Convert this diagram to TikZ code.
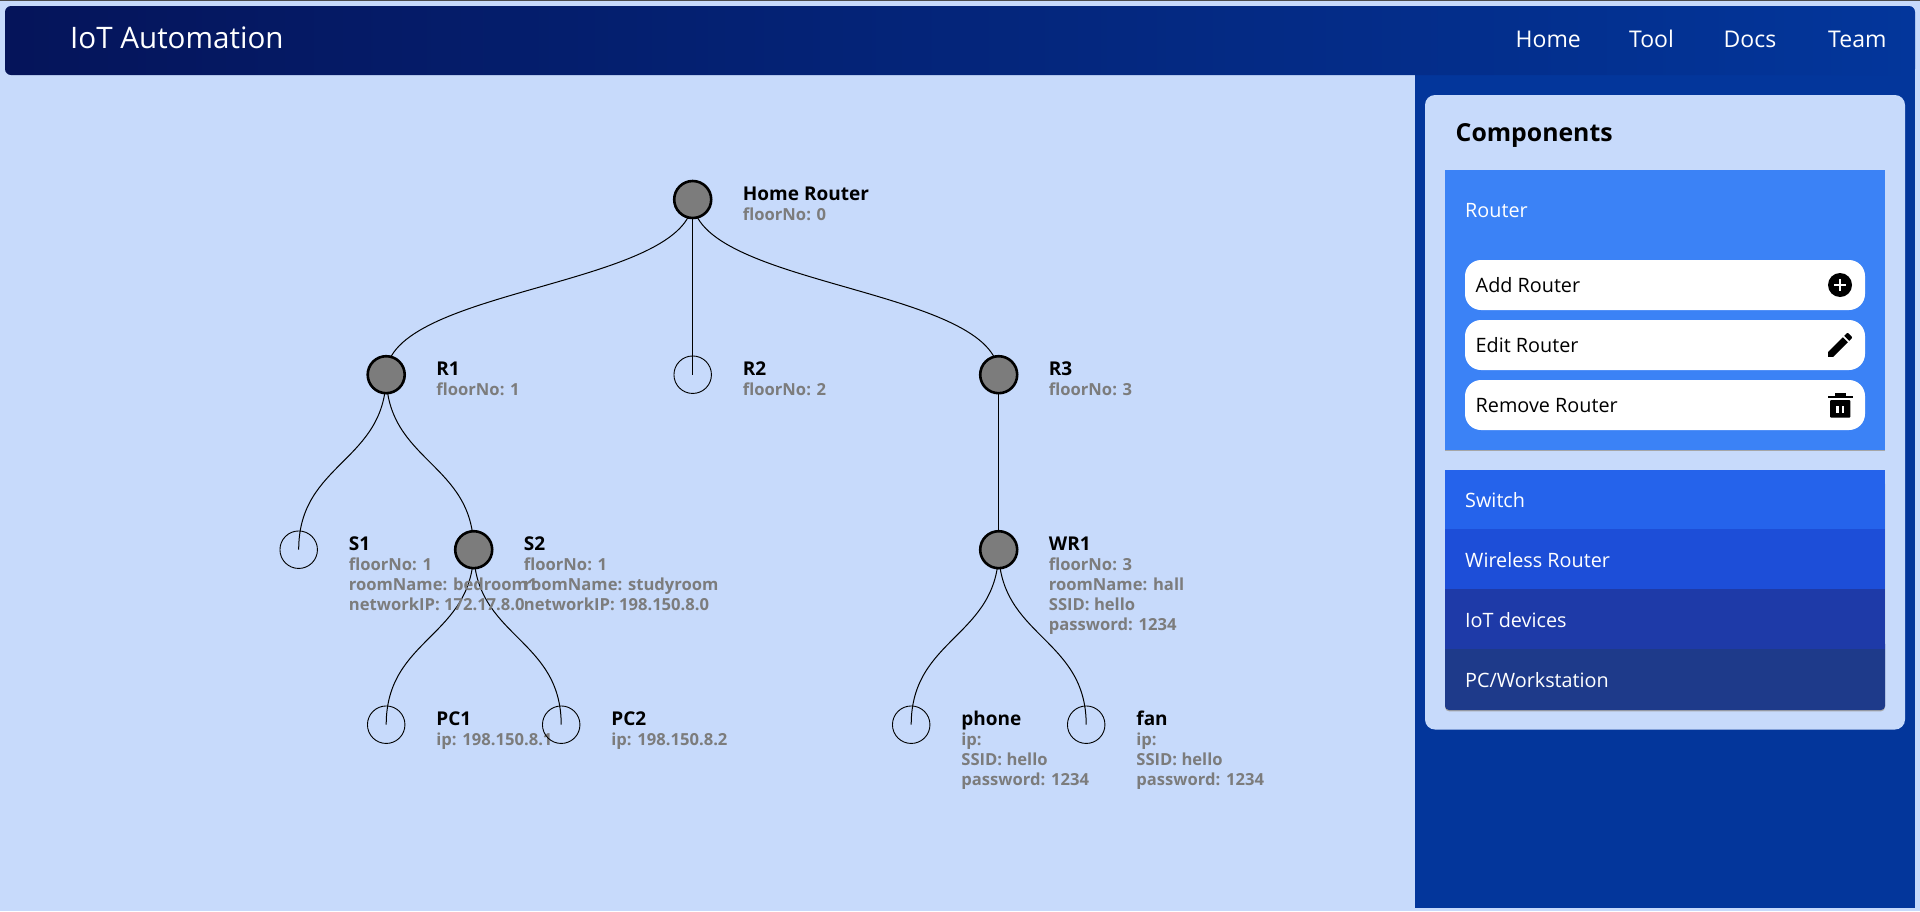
\documentclass[tikz,border=0pt]{standalone}
\usepackage{fontspec}
\setmainfont{Open Sans}
\usetikzlibrary{calc,backgrounds}
\definecolor{pagebg}{HTML}{C7DAFB}
\definecolor{sidebar}{HTML}{03369B}
\definecolor{headL}{HTML}{05145A}
\definecolor{b500}{HTML}{3B82F6}
\definecolor{b600}{HTML}{2563EB}
\definecolor{b700}{HTML}{1D4ED8}
\definecolor{b800}{HTML}{1E3AA8}
\definecolor{b900}{HTML}{1E3A8A}
\definecolor{nodegray}{HTML}{7C7C7C}
\tikzset{
  x=1pt,y=-1pt,
  filledev/.style={circle,draw=black,line width=2.6pt,fill=nodegray,minimum size=37pt,inner sep=0pt},
  emptydev/.style={circle,draw=black,line width=0.9pt,minimum size=37.5pt,inner sep=0pt},
  devname/.style={anchor=base west,inner sep=0pt,font=\fontsize{19}{20}\selectfont\bfseries,text=black},
  devinfo/.style={anchor=north west,inner sep=0pt,align=left,font=\fontsize{16.6}{20}\selectfont\bfseries,text=nodegray},
  link/.style={draw=black,line width=1pt},
  navtext/.style={anchor=base west,inner sep=0pt,font=\fontsize{23}{26}\selectfont,text=white},
  itemtext/.style={anchor=base west,inner sep=0pt,font=\fontsize{19.8}{22}\selectfont,text=white},
  btntext/.style={anchor=base west,inner sep=0pt,font=\fontsize{19.8}{22}\selectfont,text=black},
}
\newcommand{\dev}[6]{% id, x, y, style, name, info
  \node[#4] (#1) at (#2,#3) {};
  \node[devname] (#1-name) at ($(#1)+(50,0.5)$) {#5};
  \node[devinfo] (#1-info) at ($(#1)+(50,6.5)$) {\rule{0pt}{14pt}#6};
}
\newcommand{\wire}[2]{\draw[link] (#1.center) .. controls +(0,87.5) and +(0,-87.5) .. (#2.center);}
\begin{document}
\begin{tikzpicture}
\useasboundingbox (0,0) rectangle (1920,911);
% devices
\dev{home}{692.7}{199.5}{filledev}{Home Router}{floorNo: 0}
\dev{rone}{386.2}{374.7}{filledev}{R1}{floorNo: 1}
\dev{rtwo}{692.7}{374.7}{emptydev}{R2}{floorNo: 2}
\dev{rthree}{998.7}{374.7}{filledev}{R3}{floorNo: 3}
\dev{sone}{298.7}{549.7}{emptydev}{S1}{floorNo: 1\\roomName: bedroom1\\networkIP: 172.17.8.0}
\dev{stwo}{473.7}{549.7}{filledev}{S2}{floorNo: 1\\roomName: studyroom\\networkIP: 198.150.8.0}
\dev{wrone}{998.7}{549.7}{filledev}{WR1}{floorNo: 3\\roomName: hall\\SSID: hello\\password: 1234}
\dev{pcone}{386.2}{724.7}{emptydev}{PC1}{ip: 198.150.8.1}
\dev{pctwo}{561.2}{724.7}{emptydev}{PC2}{ip: 198.150.8.2}
\dev{phone}{911.2}{724.7}{emptydev}{phone}{ip:\\SSID: hello\\password: 1234}
\dev{fan}{1086.2}{724.7}{emptydev}{fan}{ip:\\SSID: hello\\password: 1234}
\begin{scope}[on background layer]
  % page
  \fill[pagebg] (0,0) rectangle (1920,911);
  \fill[black!70] (0,0) rectangle (1920,1);
  % links
  \wire{home}{rone}\wire{home}{rtwo}\wire{home}{rthree}
  \wire{rone}{sone}\wire{rone}{stwo}
  \wire{stwo}{pcone}\wire{stwo}{pctwo}
  \wire{rthree}{wrone}
  \wire{wrone}{phone}\wire{wrone}{fan}
  % sidebar and header
  \fill[sidebar] (1415,70) rectangle (1915,907.7);
  \shade[left color=headL,right color=sidebar,rounded corners=6pt] (5,6) rectangle (1915,75);
  % card
  \fill[pagebg,rounded corners=10pt] (1425,95) rectangle (1905,729.5);
  \fill[black!35] (1445,171) rectangle (1885,451.3);
  \fill[b500] (1445,170) rectangle (1885,450);
  \fill[black!35,rounded corners=4pt] (1445,480) rectangle (1885,711.3);
  \fill[b900,rounded corners=4pt] (1445,640) rectangle (1885,710);
  \fill[b600] (1445,470) rectangle (1885,529);
  \fill[b700] (1445,529) rectangle (1885,589);
  \fill[b800] (1445,589) rectangle (1885,649);
\end{scope}
% header text
\node[anchor=base west,inner sep=0pt,font=\fontsize{29.6}{34}\selectfont,text=white] (title) at (70,48.5) {IoT Automation};
\node[navtext] (nhome) at (1515.5,47) {Home};
\node[navtext] (ntool) at (1629,47) {Tool};
\node[navtext] (ndocs) at (1723.5,47) {Docs};
\node[navtext] (nteam) at (1828,47) {Team};
% card text
\node[anchor=base west,inner sep=0pt,font=\fontsize{24.8}{28}\selectfont\bfseries,text=black] (comp) at (1455.5,141) {Components};
\node[itemtext] (router) at (1465,217) {Router};
\fill[white,rounded corners=16pt] (1465,260) rectangle (1865,310);
\fill[white,rounded corners=16pt] (1465,320) rectangle (1865,370);
\fill[white,rounded corners=16pt] (1465,380) rectangle (1865,430);
\node[btntext] (add) at (1475.5,292) {Add Router};
\node[btntext] (edit) at (1475.5,352) {Edit Router};
\node[btntext] (remove) at (1475.5,412) {Remove Router};
\node[itemtext] (sw) at (1465,507) {Switch};
\node[itemtext] (wr) at (1465,567) {Wireless Router};
\node[itemtext] (iot) at (1465,627) {IoT devices};
\node[itemtext] (pc) at (1465,687) {PC/Workstation};
% add icon
\fill[black] (1840,285) circle (12);
\fill[white] (1838.8,279) rectangle (1841.2,291);
\fill[white] (1834,283.8) rectangle (1846,286.2);
% edit icon
\begin{scope}[shift={(1824,329)},x=1.333pt,y=-1.333pt]
  \fill[black] (3,17.25) -- (3,21) -- (6.75,21) -- (17.81,9.94) -- (14.06,6.19) -- cycle;
  \fill[black] (15.13,5.12) -- (16.96,3.29) -- (17.665,3) -- (18.37,3.29) -- (20.71,5.63) -- (21,6.335) -- (20.71,7.04) -- (18.88,8.87) -- cycle;
\end{scope}
% remove icon
\fill[black] (1835,393) rectangle (1845.5,396);
\fill[black] (1827.5,395.5) rectangle (1853,398);
\fill[black,rounded corners=1pt] (1830,400) rectangle (1850.3,417.7);
\fill[white] (1836.3,406) rectangle (1838.6,412.5);
\fill[white] (1841.6,406) rectangle (1843.9,412.5);
\end{tikzpicture}
\end{document}
